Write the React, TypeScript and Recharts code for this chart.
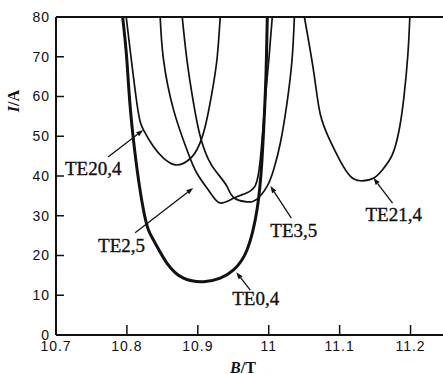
import { LineChart, Line, XAxis, YAxis, ReferenceLine, ReferenceDot } from 'recharts';

// axis ticks
const xTicks = [10.7, 10.8, 10.9, 11, 11.1, 11.2];
const yTicks = [0, 10, 20, 30, 40, 50, 60, 70, 80];

// TE0,4 (thick curve)
const te04B = [10.794, 10.8, 10.807, 10.8233, 10.8374, 10.8564, 10.8798, 10.908, 10.9316, 10.9504, 10.9694, 10.9835, 10.9905, 10.9952, 10.9968, 10.998];
const te04I = [80, 69, 52.8, 31.5, 23.9, 18.1, 14.3, 13.4, 14.3, 16.4, 21.4, 31.5, 44.1, 60.9, 70, 80];

// TE20,4
const te204B = [10.799, 10.814, 10.8233, 10.8374, 10.8515, 10.8681, 10.8846, 10.8987, 10.9105, 10.9199, 10.927, 10.9316];
const te204I = [80, 58.4, 51.6, 47.4, 44.5, 42.8, 43.7, 46.6, 52.5, 60.9, 69.3, 80];

// TE2,5
const te25B = [10.8469, 10.8516, 10.8657, 10.8846, 10.8987, 10.9175, 10.9316, 10.9504, 10.9694, 10.9811, 10.9881, 10.9955, 11.0005, 11.005];
const te25I = [80, 69.3, 56.7, 46.6, 40.7, 35.8, 33.2, 34.4, 35.8, 37.6, 44.1, 60, 70, 80];

// TE3,5
const te35B = [10.878, 10.8846, 10.8939, 10.9034, 10.9151, 10.927, 10.9411, 10.9504, 10.9694, 10.9835, 10.9976, 11.0069, 11.0164, 11.0258, 11.0329, 11.0362];
const te35I = [80, 69.3, 58.4, 50, 44.1, 40.8, 37.4, 34.6, 33.5, 34.2, 37.4, 41.6, 48.3, 58.4, 69.3, 80];

// TE21,4
const te214B = [11.0503, 11.0637, 11.0729, 11.087, 11.1011, 11.1153, 11.1294, 11.1482, 11.1623, 11.1742, 11.1835, 11.1905, 11.1962, 11.199];
const te214I = [80, 65.9, 55.4, 48.7, 43.7, 39.9, 38.8, 39.5, 42, 45.3, 51.2, 59.6, 70.5, 80];

const toPoints = (b: number[], i: number[]) => b.map((v, k) => ({ b: v, i: i[k] }));

const curves = [
  { name: 'TE0,4', data: toPoints(te04B, te04I), width: 3 },
  { name: 'TE20,4', data: toPoints(te204B, te204I), width: 1.7 },
  { name: 'TE2,5', data: toPoints(te25B, te25I), width: 1.7 },
  { name: 'TE3,5', data: toPoints(te35B, te35I), width: 1.7 },
  { name: 'TE21,4', data: toPoints(te214B, te214I), width: 1.7 },
];

// mode labels: text anchor, arrow start, arrow tip (data coords)
const notes = [
  { text: 'TE20,4', at: [10.7127, 41.9], from: [10.7734, 44.8], to: [10.8229, 51.6] },
  { text: 'TE2,5', at: [10.7593, 22.5], from: [10.8116, 25.7], to: [10.8935, 37.0] },
  { text: 'TE3,5', at: [11.0023, 26.4], from: [11.0319, 29.4], to: [11.0023, 37.5] },
  { text: 'TE0,4', at: [10.9486, 9.2], from: [10.974, 11.3], to: [10.9542, 15.8] },
  { text: 'TE21,4', at: [11.1364, 30.2], from: [11.1746, 33.2], to: [11.1477, 39.5] },
];

const ink = '#111';

function Arrow(props: any) {
  const { x1, y1, x2, y2 } = props;
  const a = Math.atan2(y2 - y1, x2 - x1);
  const len = 7;
  const half = 2.5;
  const bx = x2 - len * Math.cos(a);
  const by = y2 - len * Math.sin(a);
  const pts = `${x2},${y2} ${bx - half * Math.sin(a)},${by + half * Math.cos(a)} ${bx + half * Math.sin(a)},${by - half * Math.cos(a)}`;
  return (
    <g>
      <line x1={x1} y1={y1} x2={bx} y2={by} stroke={ink} strokeWidth={1.3} />
      <polygon points={pts} fill={ink} />
    </g>
  );
}

const tickFont = { fill: ink, fontSize: 14, letterSpacing: 1, fontFamily: 'Liberation Sans, Arial, sans-serif' };

export default function App() {
  return (
    <div style={{ position: 'absolute', left: 0, top: 0, width: 443, height: 374, overflow: 'hidden', background: '#fff' }}>
      <LineChart width={446} height={374} margin={{ top: 17, right: 0, left: 6, bottom: 0 }}>
        <XAxis
          type="number"
          dataKey="b"
          domain={[10.7, 11.25]}
          ticks={xTicks}
          allowDataOverflow
          height={39}
          tickSize={-10}
          tickMargin={16}
          tickFormatter={(v: number) => String(v)}
          axisLine={{ stroke: ink, strokeWidth: 2 }}
          tickLine={{ stroke: ink, strokeWidth: 1.5 }}
          tick={tickFont}
          label={{
            content: () => (
              <text x={243} y={373} textAnchor="middle" fill={ink} fontSize={16} fontWeight="bold" fontFamily="Liberation Serif, serif">
                <tspan fontStyle="italic">B</tspan>/T
              </text>
            ),
          }}
        />
        <YAxis
          type="number"
          domain={[0, 80]}
          ticks={yTicks}
          allowDataOverflow
          width={50}
          tickSize={-8}
          tickMargin={14}
          axisLine={{ stroke: ink, strokeWidth: 2 }}
          tickLine={{ stroke: ink, strokeWidth: 1.5 }}
          tick={tickFont}
          label={{
            content: () => (
              <text x={13} y={101} transform="rotate(-90 13 101)" textAnchor="middle" dominantBaseline="central" fill={ink} fontSize={16} fontWeight="bold" fontFamily="Liberation Serif, serif">
                <tspan fontStyle="italic">I</tspan>/A
              </text>
            ),
          }}
        />
        <ReferenceLine y={80} stroke={ink} strokeWidth={2} />
        {curves.map((c) => (
          <Line
            key={c.name}
            data={c.data}
            dataKey="i"
            type="natural"
            stroke={ink}
            strokeWidth={c.width}
            dot={false}
            activeDot={false}
            isAnimationActive={false}
          />
        ))}
        {notes.map((n) => (
          <ReferenceLine
            key={'a' + n.text}
            segment={[{ x: n.from[0], y: n.from[1] }, { x: n.to[0], y: n.to[1] }]}
            shape={Arrow}
          />
        ))}
        {notes.map((n) => (
          <ReferenceDot
            key={'t' + n.text}
            x={n.at[0]}
            y={n.at[1]}
            r={1}
            shape={(p: any) => (
              <text x={p.cx} y={p.cy} dominantBaseline="central" fill={ink} stroke={ink} strokeWidth={0.35} fontSize={19} fontFamily="Liberation Serif, serif">
                {n.text}
              </text>
            )}
          />
        ))}
      </LineChart>
    </div>
  );
}
